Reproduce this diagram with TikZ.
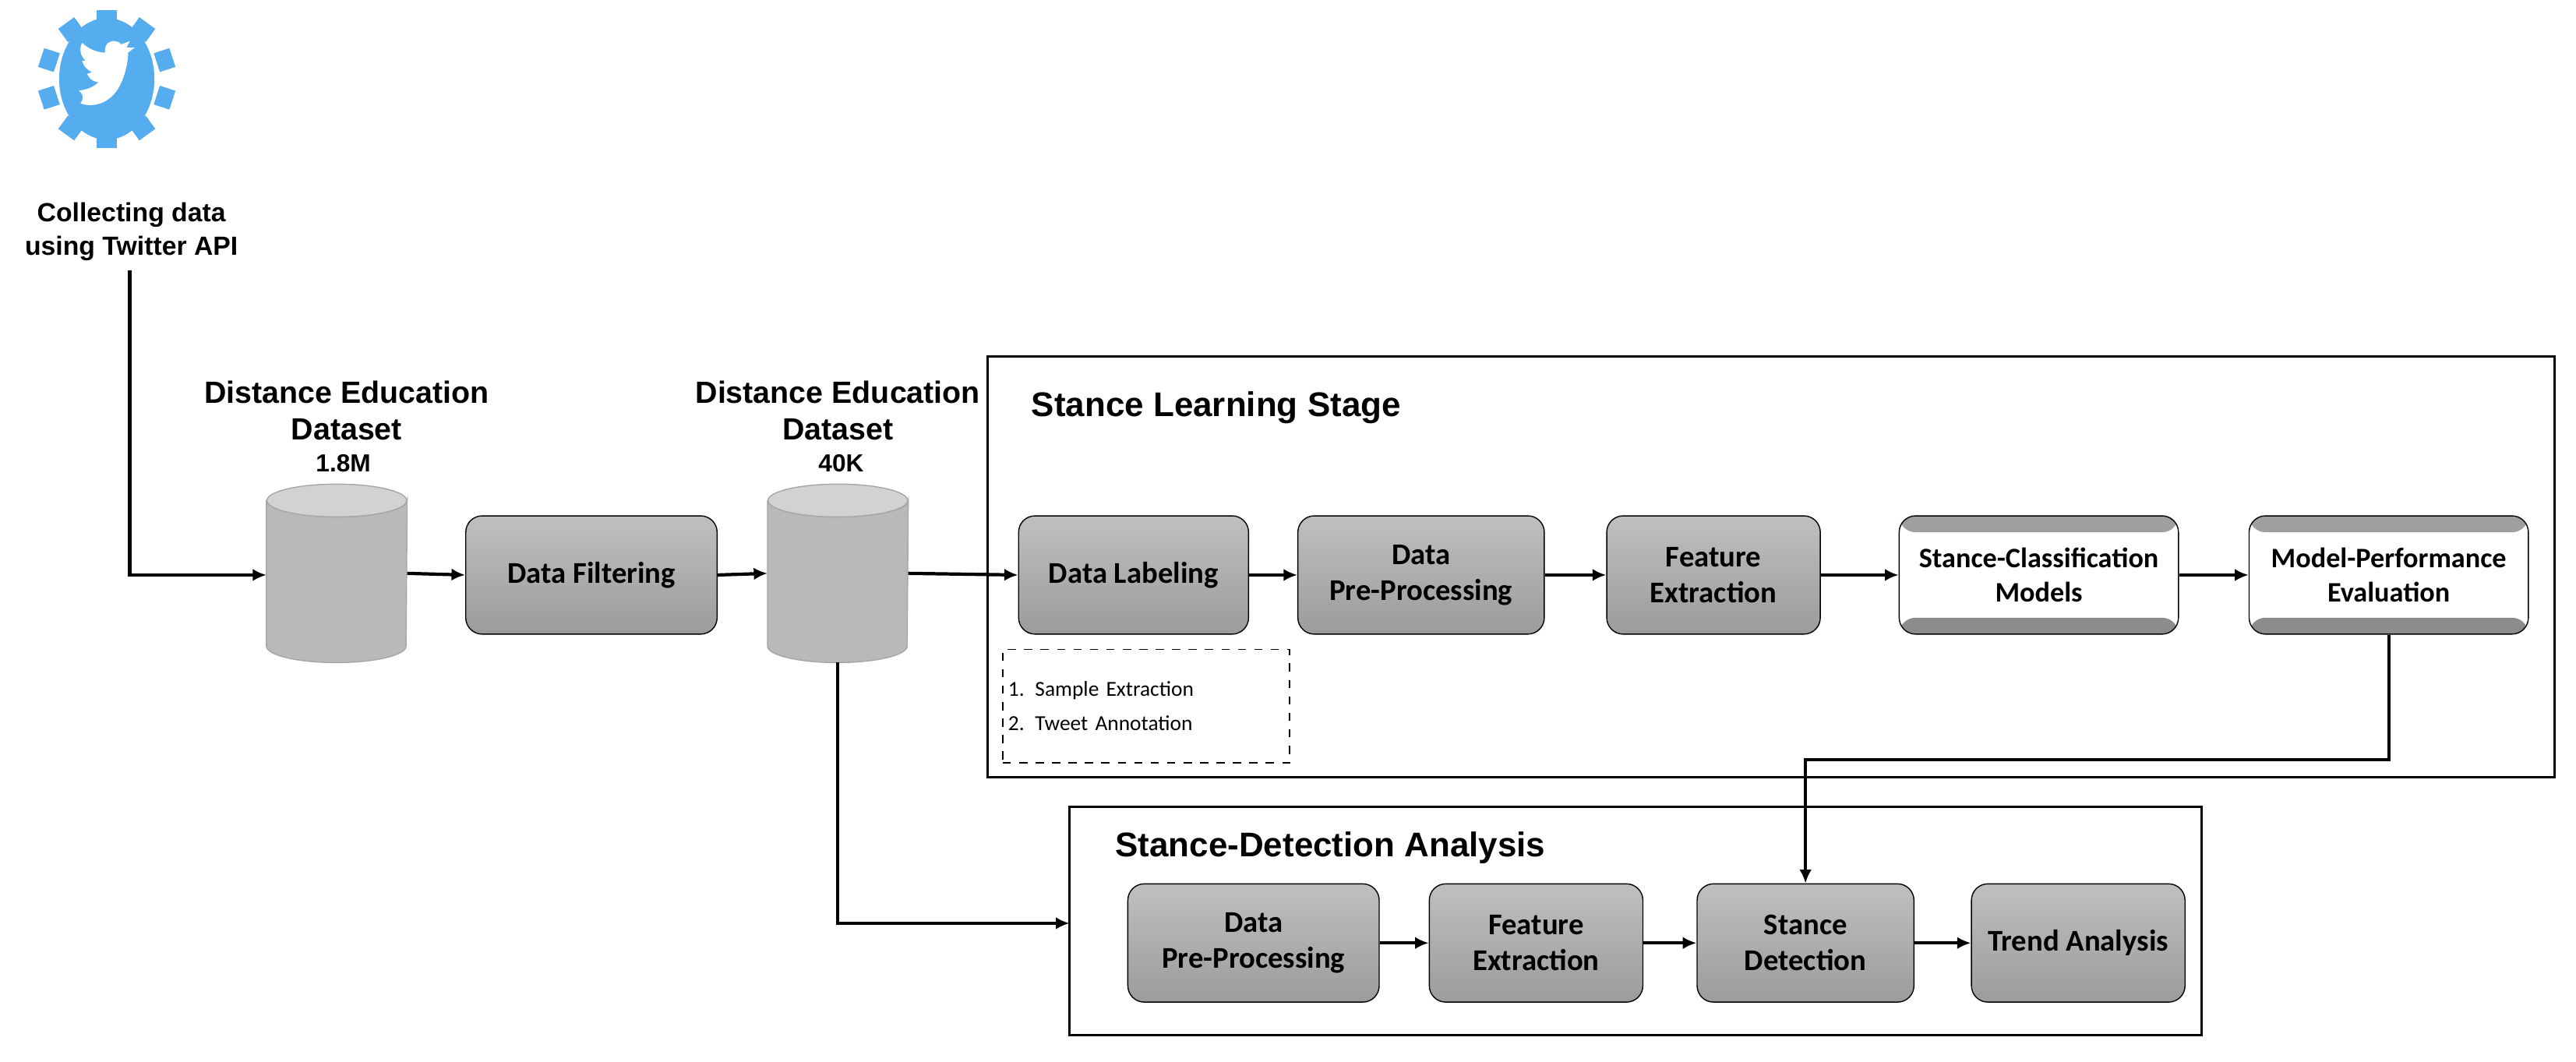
\documentclass[tikz,border=0pt]{standalone}
\usepackage{fontspec}
\setmainfont{Liberation Sans}
\newfontfamily\calfont{Carlito}
\usetikzlibrary{shapes.geometric,positioning,arrows.meta}
\definecolor{twblue}{RGB}{85,172,238}
\newcommand{\pu}{0.02108cm}
% cylinder body and top drawn around a named node
\newcommand{\dbdraw}[1]{%
  \fill[gray!55, draw=gray!70] (#1.north west) -- (#1.south west)
      arc[start angle=180, end angle=360, x radius=42.5, y radius=-10] -- (#1.north east)
      arc[start angle=0, end angle=180, x radius=42.5, y radius=10] -- cycle;
  \fill[gray!35, draw=gray!70] (#1.north) ellipse (42.5 and 10);}

\tikzset{
  step/.style={draw=black, rounded corners=6pt, top color=gray!50, bottom color=gray!78,
    minimum width=#1*\pu, minimum height=72*\pu, inner sep=1pt,
    font=\calfont\fontsize{11}{13}\selectfont\bfseries, align=center},
  step/.default=140,
  band/.style={draw=black, rounded corners=6pt, fill=white, minimum width=170*\pu, minimum height=72*\pu,
    inner sep=1pt, font=\calfont\fontsize{10.3}{12.5}\selectfont\bfseries, align=center,
    path picture={\fill[gray!75] (path picture bounding box.north west) rectangle ([yshift=-10*\pu]path picture bounding box.north east);
      \fill[gray!90] (path picture bounding box.south west) rectangle ([yshift=10*\pu]path picture bounding box.south east);}},
  db/.style={minimum width=85*\pu, minimum height=88*\pu, inner sep=0pt},
  title/.style={font=\fontsize{11.2}{13.5}\selectfont\bfseries, align=center},
  head/.style={anchor=west, font=\fontsize{12.5}{15}\selectfont\bfseries},
  frame/.style={draw=black, thick},
  flow/.style={very thick, -{Latex[length=5pt,width=4.5pt]}}
}

\begin{document}
\begin{tikzpicture}[x=\pu, y=-\pu]
    \useasboundingbox (0,0) rectangle (1568,646);
    % twitter gear
    \fill[twblue] (65,48) ellipse (29 and 37);
    \foreach \a in {0,36,...,324}
        \fill[twblue, rotate around={\a:(65,48)}] (59,6) rectangle (71,16);
    \fill[white] (49,63) .. controls (58,66) and (68,62) .. (73,52)
        .. controls (77,44) and (78,36) .. (78,32) -- (82,29) -- (77,29) -- (79,25) -- (74,27)
        .. controls (70,23) and (63,25) .. (64,32)
        .. controls (58,32) and (53,29) .. (50,26)
        .. controls (48,30) and (49,34) .. (52,37) -- (50,37)
        .. controls (51,41) and (54,43) .. (56,44) -- (53,45)
        .. controls (55,49) and (58,50) .. (60,50)
        .. controls (57,53) and (52,55) .. (48,55)
        .. controls (52,59) and (50,61) .. (49,63) -- cycle;
    \node[title, font=\fontsize{9.6}{12}\selectfont\bfseries] (api) at (80,141) {Collecting data\\using Twitter API};
    \coordinate (turn) at (79,350);

    % datasets
    \node[db] (raw) at (205,349) {};
    \dbdraw{raw}
    \node[title] (rawlbl) at (211,250) {Distance Education\\Dataset};
    \node[font=\fontsize{9}{10}\selectfont\bfseries] at (209,282) {1.8M};
    \node[step=153] (filter) at (360,350) {Data Filtering};
    \node[db] (clean) at (510,349) {};
    \dbdraw{clean}
    \node[title] (cleanlbl) at (510,250) {Distance Education\\Dataset};
    \node[font=\fontsize{9}{10}\selectfont\bfseries] at (512,282) {40K};

    % stance learning stage
    \draw[frame] (601,217) rectangle (1555,473);
    \node[head] at (622,248) {Stance Learning Stage};
    \node[step] (label) at (690,350) {Data Labeling};
    \node[step=150] (prep) at (865,350) {Data\\Pre-Processing};
    \node[step=130] (feat) at (1043,350) {Feature\\Extraction};
    \node[band] (model) at (1241,350) {Stance-Classification\\Models};
    \node[band] (eval) at (1454,350) {Model-Performance\\Evaluation};
    \node[draw, dashed, minimum width=174*\pu, minimum height=69*\pu, anchor=north west,
        font=\calfont\fontsize{7.8}{12.5}\selectfont, align=left, inner sep=2pt, text width=168*\pu] (tasks) at (610,395)
        {1. Sample Extraction\\2. Tweet Annotation};

    % stance detection analysis
    \draw[frame] (651,491) rectangle (1340,630);
    \coordinate (entry) at (651,562);
    \node[head] at (673,516) {Stance-Detection Analysis};
    \node[step=153] (prep2) at (763,574) {Data\\Pre-Processing};
    \node[step=130] (feat2) at (935,574) {Feature\\Extraction};
    \node[step=132] (detect) at (1099,574) {Stance\\Detection};
    \node[step=130] (trend) at (1265,574) {Trend Analysis};

    % connectors
    \draw[flow] (api.south -| turn) -- (turn) -- (raw.west |- turn);
    \draw[flow] (raw.east) -- (filter.west);
    \draw[flow] (filter.east) -- (clean.west);
    \draw[flow] (clean.east) -- (label.west);
    \draw[flow] (label) -- (prep);
    \draw[flow] (prep) -- (feat);
    \draw[flow] (feat) -- (model);
    \draw[flow] (model) -- (eval);
    \draw[flow] ([yshift=-10*\pu]clean.south) |- (entry);
    \draw[flow] (eval.south) |- ++(0,76) -| (detect.north);
    \draw[flow] (prep2) -- (feat2);
    \draw[flow] (feat2) -- (detect);
    \draw[flow] (detect) -- (trend);
\end{tikzpicture}
\end{document}
